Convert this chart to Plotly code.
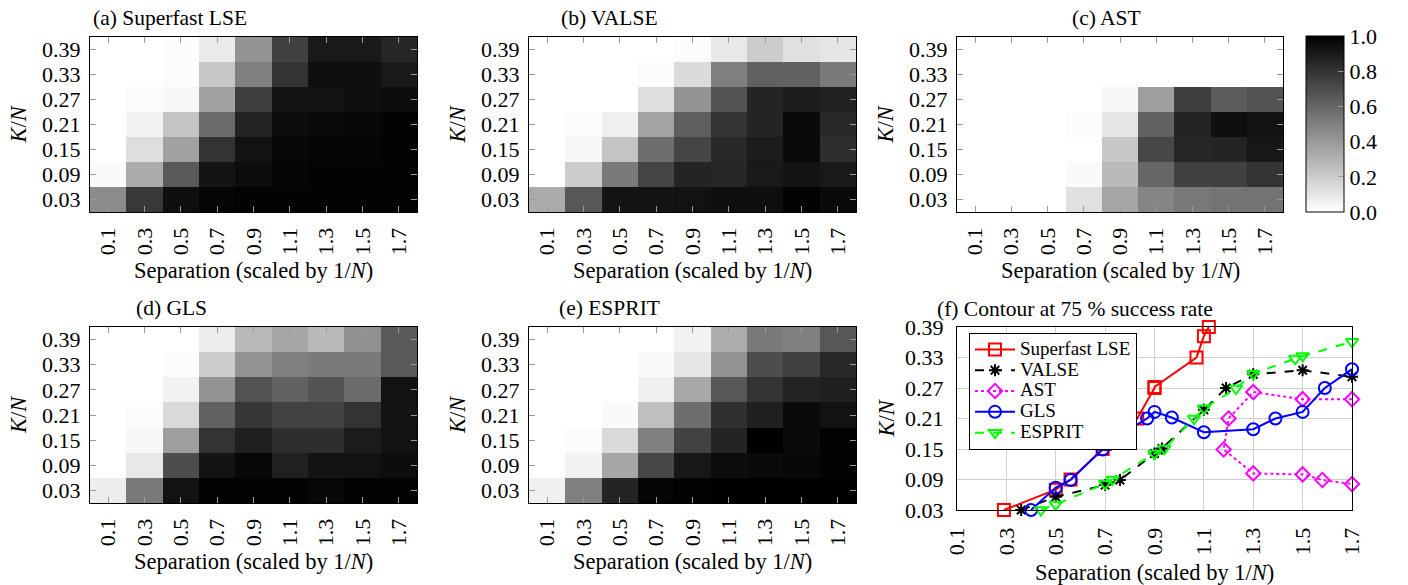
import plotly.graph_objects as go

W, H = 1408, 585

# ---------------- data ----------------
sep = [0.1, 0.3, 0.5, 0.7, 0.9, 1.1, 1.3, 1.5, 1.7]
kn = [0.03, 0.09, 0.15, 0.21, 0.27, 0.33, 0.39]
sep_labels = ["0.1", "0.3", "0.5", "0.7", "0.9", "1.1", "1.3", "1.5", "1.7"]
kn_labels = ["0.03", "0.09", "0.15", "0.21", "0.27", "0.33", "0.39"]
cbar_vals = [0.0, 0.2, 0.4, 0.6, 0.8, 1.0]
cbar_labels = ["0.0", "0.2", "0.4", "0.6", "0.8", "1.0"]

# success rates, rows from K/N = 0.03 (bottom) to 0.39 (top)
superfast_lse = [
    [0.45, 0.78, 0.94, 0.98, 0.99, 0.99, 0.99, 0.99, 0.99],
    [0.02, 0.33, 0.65, 0.92, 0.95, 0.98, 0.99, 0.99, 0.99],
    [0.00, 0.13, 0.37, 0.80, 0.93, 0.97, 0.98, 0.98, 0.99],
    [0.00, 0.05, 0.23, 0.58, 0.86, 0.95, 0.96, 0.97, 0.99],
    [0.00, 0.01, 0.03, 0.37, 0.76, 0.93, 0.93, 0.94, 0.95],
    [0.00, 0.00, 0.01, 0.22, 0.50, 0.80, 0.94, 0.94, 0.90],
    [0.00, 0.00, 0.01, 0.08, 0.42, 0.75, 0.90, 0.90, 0.85],
]
valse = [
    [0.33, 0.66, 0.92, 0.92, 0.93, 0.94, 0.94, 0.99, 0.96],
    [0.00, 0.20, 0.52, 0.73, 0.86, 0.85, 0.90, 0.92, 0.90],
    [0.00, 0.03, 0.23, 0.57, 0.73, 0.84, 0.89, 0.96, 0.82],
    [0.00, 0.01, 0.06, 0.36, 0.63, 0.80, 0.86, 0.96, 0.84],
    [0.00, 0.00, 0.00, 0.13, 0.42, 0.67, 0.86, 0.89, 0.87],
    [0.00, 0.00, 0.00, 0.01, 0.14, 0.50, 0.62, 0.62, 0.52],
    [0.00, 0.00, 0.00, 0.00, 0.01, 0.09, 0.20, 0.12, 0.10],
]
ast = [
    [0.00, 0.00, 0.00, 0.12, 0.35, 0.48, 0.53, 0.55, 0.55],
    [0.00, 0.00, 0.00, 0.02, 0.27, 0.60, 0.75, 0.75, 0.80],
    [0.00, 0.00, 0.00, 0.00, 0.22, 0.72, 0.85, 0.86, 0.91],
    [0.00, 0.00, 0.00, 0.01, 0.10, 0.62, 0.86, 0.94, 0.93],
    [0.00, 0.00, 0.00, 0.00, 0.03, 0.38, 0.76, 0.64, 0.68],
    [0.00, 0.00, 0.00, 0.00, 0.00, 0.00, 0.00, 0.00, 0.00],
    [0.00, 0.00, 0.00, 0.00, 0.00, 0.00, 0.00, 0.00, 0.00],
]
gls = [
    [0.07, 0.52, 0.93, 0.99, 0.99, 0.99, 0.97, 0.99, 0.99],
    [0.00, 0.09, 0.70, 0.92, 0.97, 0.87, 0.92, 0.93, 0.95],
    [0.00, 0.03, 0.38, 0.80, 0.88, 0.82, 0.82, 0.89, 0.93],
    [0.00, 0.01, 0.15, 0.62, 0.79, 0.74, 0.74, 0.80, 0.92],
    [0.00, 0.00, 0.05, 0.42, 0.68, 0.62, 0.67, 0.58, 0.93],
    [0.00, 0.00, 0.01, 0.20, 0.42, 0.50, 0.52, 0.52, 0.65],
    [0.00, 0.00, 0.00, 0.07, 0.28, 0.35, 0.27, 0.43, 0.65],
]
esprit = [
    [0.06, 0.50, 0.86, 0.98, 0.99, 1.00, 1.00, 1.00, 1.00],
    [0.00, 0.05, 0.35, 0.72, 0.91, 0.95, 0.96, 0.97, 0.99],
    [0.00, 0.01, 0.15, 0.50, 0.74, 0.86, 1.00, 0.96, 0.99],
    [0.00, 0.00, 0.02, 0.25, 0.57, 0.81, 0.88, 0.96, 0.93],
    [0.00, 0.00, 0.00, 0.06, 0.34, 0.66, 0.80, 0.86, 0.88],
    [0.00, 0.00, 0.00, 0.02, 0.10, 0.42, 0.70, 0.75, 0.84],
    [0.00, 0.00, 0.00, 0.00, 0.05, 0.32, 0.52, 0.50, 0.66],
]

# 75 % contours
lse_x = [0.29, 0.50, 0.56, 0.69, 0.70, 0.83, 0.90, 0.90, 1.07, 1.10, 1.12]
lse_y = [0.03, 0.07, 0.09, 0.15, 0.16, 0.21, 0.27, 0.272, 0.33, 0.372, 0.39]
valse_x = [0.36, 0.50, 0.70, 0.76, 0.90, 0.93, 1.10, 1.19, 1.30, 1.50, 1.70]
valse_y = [0.03, 0.056, 0.079, 0.089, 0.141, 0.151, 0.227, 0.27, 0.297, 0.305, 0.292]
ast_x = [1.70, 1.50, 1.30, 1.20, 1.18, 1.30, 1.50, 1.58, 1.70]
ast_y = [0.248, 0.248, 0.262, 0.21, 0.149, 0.102, 0.10, 0.089, 0.081]
gls_x = [0.40, 0.50, 0.56, 0.69, 0.70, 0.87, 0.90, 0.97, 1.10, 1.30, 1.39, 1.50, 1.59, 1.70]
gls_y = [0.03, 0.074, 0.089, 0.149, 0.16, 0.21, 0.223, 0.212, 0.183, 0.189, 0.21, 0.223, 0.27, 0.307]
esprit_x = [0.44, 0.50, 0.70, 0.73, 0.90, 0.94, 1.06, 1.10, 1.23, 1.30, 1.47, 1.50, 1.70]
esprit_y = [0.03, 0.041, 0.082, 0.09, 0.141, 0.151, 0.21, 0.23, 0.269, 0.298, 0.328, 0.333, 0.361]

# ---------------- layout helpers ----------------
FONT = "Liberation Serif"
TICK_FS = 22
TITLE_FS = 21.5
LABEL_FS = 22.5

def fx(p):
    return p / W

def fy(p):
    return 1 - p / H

panels = [
    ("(a) Superfast LSE", superfast_lse, (90, 417, 37, 212), 170),
    ("(b) VALSE", valse, (529, 856, 37, 212), 609),
    ("(c) AST", ast, (957, 1283, 37, 212), 1106),
    ("(d) GLS", gls, (90, 417, 327, 503), 171),
    ("(e) ESPRIT", esprit, (529, 856, 327, 503), 609),
]

fig = go.Figure()
annotations = []
layout = {}

greyscale = [[0, "#ffffff"], [1, "#000000"]]

def ann(text, x, y, size, angle=0):
    return dict(
        text=text, x=fx(x), y=fy(y), xref="paper", yref="paper",
        xanchor="center", yanchor="middle", showarrow=False, textangle=angle,
        font=dict(family=FONT, size=size, color="#000000"),
    )

for i, (title, data, (l, r, t, b), tx) in enumerate(panels):
    n = i + 1
    xa = "x" if n == 1 else f"x{n}"
    ya = "y" if n == 1 else f"y{n}"
    show = (n == 3)
    hm = go.Heatmap(
        x=sep, y=kn, z=data, zmin=0, zmax=1, colorscale=greyscale,
        xaxis=xa, yaxis=ya, showscale=show, hoverinfo="skip",
    )
    if show:
        hm.colorbar = dict(
            x=fx(1306), xanchor="left", y=fy(36), yanchor="top",
            thickness=38, thicknessmode="pixels", len=176, lenmode="pixels",
            outlinewidth=1, outlinecolor="#000000", xpad=0, ypad=0,
            ticks="inside", ticklen=6, tickcolor="#999999",
            tickvals=cbar_vals, ticktext=cbar_labels,
            tickfont=dict(family=FONT, size=TICK_FS, color="#000000"),
        )
    fig.add_trace(hm)
    layout[f"xaxis{'' if n == 1 else n}"] = dict(
        domain=[fx(l), fx(r)], anchor=ya, range=[0.0, 1.8],
        tickvals=sep, ticktext=sep_labels, tickangle=-90,
        ticks="inside", ticklen=6, tickcolor="#9a9a9a", tickwidth=1,
        showline=True, linecolor="#000000", linewidth=1, mirror="ticks",
        showgrid=False, zeroline=False, ticklabelstandoff=6,
        tickfont=dict(family=FONT, size=TICK_FS, color="#000000"),
    )
    layout[f"yaxis{'' if n == 1 else n}"] = dict(
        domain=[fy(b), fy(t)], anchor=xa, range=[0.0, 0.42],
        tickvals=kn, ticktext=kn_labels,
        ticks="inside", ticklen=6, tickcolor="#9a9a9a", tickwidth=1,
        showline=True, linecolor="#000000", linewidth=1, mirror="ticks",
        showgrid=False, zeroline=False, ticklabelstandoff=4,
        tickfont=dict(family=FONT, size=TICK_FS, color="#000000"),
    )
    annotations.append(ann(title, tx, t - 19, TITLE_FS))
    annotations.append(ann("Separation (scaled by 1/<i>N</i>)", (l + r) / 2, b + 58, LABEL_FS))
    annotations.append(ann("<i>K</i>/<i>N</i>", l - 72, (t + b) / 2, LABEL_FS, -90))

# ---------------- panel (f) ----------------
series = [
    ("Superfast LSE", lse_x, lse_y, "#ff0000", "solid", "square-open", 12),
    ("VALSE", valse_x, valse_y, "#000000", "dash", "asterisk-open", 10),
    ("AST", ast_x, ast_y, "#ff00ff", "dot", "diamond-open", 11),
    ("GLS", gls_x, gls_y, "#0000ff", "solid", "circle-open", 12),
    ("ESPRIT", esprit_x, esprit_y, "#00ff00", "dash", "triangle-down-open", 11),
]
for name, xs, ys, col, dash, sym, size in series:
    fig.add_trace(go.Scatter(
        x=xs, y=ys, name=f"<span style='font-size:19px'>{name}</span>",
        mode="lines+markers", xaxis="x6", yaxis="y6",
        line=dict(color=col, width=2, dash=dash),
        marker=dict(symbol=sym, size=size, color=col, line=dict(color=col, width=2)),
        cliponaxis=False, hoverinfo="skip",
    ))

l, r, t, b = 957, 1352, 327, 510
layout["xaxis6"] = dict(
    domain=[fx(l), fx(r)], anchor="y6", range=[0.1, 1.7],
    tickvals=sep, ticktext=sep_labels, tickangle=-90, ticks="",
    showline=True, linecolor="#000000", linewidth=1, mirror=True,
    showgrid=True, gridcolor="#cfcfcf", gridwidth=1, zeroline=False,
    ticklabelstandoff=8,
    tickfont=dict(family=FONT, size=TICK_FS, color="#000000"),
)
layout["yaxis6"] = dict(
    domain=[fy(b), fy(t)], anchor="x6", range=[0.03, 0.39],
    tickvals=kn, ticktext=kn_labels, ticks="",
    showline=True, linecolor="#000000", linewidth=1, mirror=True,
    showgrid=True, gridcolor="#cfcfcf", gridwidth=1, zeroline=False,
    ticklabelstandoff=8,
    tickfont=dict(family=FONT, size=TICK_FS, color="#000000"),
)
annotations.append(ann("(f) Contour at 75 % success rate", 1075, 309, TITLE_FS))
annotations.append(ann("Separation (scaled by 1/<i>N</i>)", (l + r) / 2, 572, LABEL_FS))
annotations.append(ann("<i>K</i>/<i>N</i>", l - 71, (t + b) / 2, LABEL_FS, -90))

fig.update_layout(
    width=W, height=H, margin=dict(l=0, r=0, t=0, b=0, autoexpand=False),
    paper_bgcolor="#ffffff", plot_bgcolor="#ffffff",
    font=dict(family=FONT, size=TICK_FS, color="#000000"),
    annotations=annotations,
    showlegend=True,
    legend=dict(
        x=fx(969), y=fy(333), xanchor="left", yanchor="top",
        bgcolor="#ffffff", bordercolor="#000000", borderwidth=1,
        font=dict(family=FONT, size=13.7, color="#000000"),
        itemwidth=40, tracegroupgap=0,
    ),
    **layout,
)

fig.write_html(
    "out.html",
    config={"displayModeBar": False, "staticPlot": True},
    post_script="document.body.style.margin='0px';document.body.style.overflow='hidden';",
)
